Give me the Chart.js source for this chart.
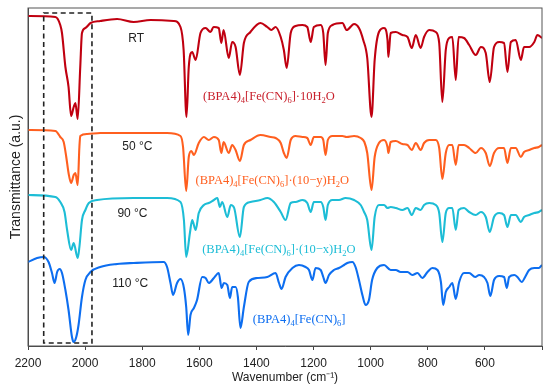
<!doctype html>
<html lang="en">
<head>
<meta charset="UTF-8">
<title>IR spectra</title>
<script src="https://cdn.jsdelivr.net/npm/chart.js@4.4.0/dist/chart.umd.min.js"></script>
<style>
	html, body { margin: 0; padding: 0; background: #fff; }
	canvas { display: block; }
</style>
</head>
<body>
<canvas id="chart" width="550" height="389"></canvas>
<script>
	// wavenumbers (cm-1) and transmittance (a.u., stacked offsets)
	const rtWn = [2200,2104,2087,2081,2069,2058,2049,2040,2034,2026,2017,2011,1999,1981,1947,1888,1830,1771,1690,1666,1655,1645,1637,1625,1613,1596,1578,1561,1550,1532,1523,1515,1497,1485,1473,1458,1444,1421,1386,1362,1348,1333,1315,1304,1294,1280,1263,1239,1222,1210,1199,1175,1166,1158,1150,1134,1099,1084,1058,1041,1026,1012,997,986,971,953,941,938,930,912,889,871,856,842,825,813,795,772,760,749,737,725,714,702,692,673,655,632,614,597,583,568,550,533,521,509,492,474,463,445,427,416,400];
	const rtT = [331,330,322,314,280,260,231,240,244,228,280,314,319,324,326,328,325,327,326,320,297,230,280,295,287,314,319,315,320,319,304,317,289,305,300,272,304,315,324,320,317,320,310,297,279,314,321,322,320,305,320,322,314,282,314,322,324,317,323,319,307,289,230,287,315,319,307,290,314,315,312,310,299,312,299,310,317,315,304,245,297,309,310,267,310,309,302,292,300,294,265,300,305,304,275,305,307,287,300,300,305,312,309];

	const t50Wn = [2200,2104,2087,2075,2066,2058,2049,2040,2034,2026,2020,2017,1993,1947,1830,1713,1666,1657,1646,1637,1628,1619,1602,1584,1567,1549,1532,1523,1515,1497,1485,1473,1458,1444,1421,1386,1350,1333,1315,1304,1294,1280,1263,1239,1222,1210,1199,1175,1166,1158,1150,1134,1099,1084,1058,1035,1022,1012,997,986,971,953,941,938,930,912,889,871,856,842,825,813,795,772,760,749,737,725,714,702,692,673,655,632,614,597,583,568,550,533,521,509,492,474,463,445,427,411,400];
	const t50T = [217,216,210,205,190,174,164,172,174,162,200,211,213,214,214,214,211,200,156,190,196,192,204,210,207,210,207,194,205,194,202,197,186,202,207,212,210,209,204,194,189,207,211,210,209,202,210,210,207,192,207,211,211,210,211,209,205,194,157,190,204,207,200,194,205,206,203,202,197,204,197,204,207,207,199,168,194,202,202,182,202,202,199,194,199,194,181,194,199,199,184,199,199,190,195,197,199,200,202];

	const t90Wn = [2200,2104,2087,2072,2063,2049,2040,2026,2020,2011,1999,1987,1958,1830,1713,1666,1654,1646,1633,1625,1613,1602,1584,1567,1549,1537,1528,1520,1502,1490,1478,1458,1444,1421,1386,1362,1339,1315,1298,1280,1263,1239,1222,1210,1199,1175,1166,1158,1150,1134,1111,1088,1058,1035,1023,1012,997,986,971,953,941,930,912,889,871,856,842,825,813,795,772,760,749,737,725,714,702,692,673,655,632,614,597,583,568,550,533,521,509,492,474,463,445,427,411,400];
	const t90T = [152,150,145,135,117,97,104,89,100,127,137,144,147,149,149,145,127,90,114,127,117,134,142,144,147,149,140,145,130,142,139,110,140,145,147,149,145,135,127,144,145,147,144,135,145,145,140,127,142,147,147,149,147,142,135,127,97,130,142,142,139,140,139,137,139,132,139,137,142,144,142,134,105,134,139,139,117,137,139,135,132,135,130,115,130,134,132,120,132,132,125,130,132,134,135,137];

	const t110Wn = [2200,2168,2145,2128,2116,2107,2098,2089,2081,2069,2058,2046,2040,2031,2023,2011,1999,1981,1947,1888,1830,1725,1713,1701,1692,1678,1666,1654,1646,1639,1631,1619,1608,1590,1578,1567,1549,1532,1522,1514,1502,1493,1485,1473,1465,1456,1444,1427,1397,1362,1333,1321,1312,1298,1274,1251,1228,1216,1204,1193,1175,1166,1158,1146,1129,1111,1093,1082,1064,1053,1041,1029,1018,1006,995,977,953,930,912,895,871,854,836,819,801,784,766,754,746,737,725,714,702,690,673,655,634,620,603,591,581,568,550,533,523,515,497,486,471,459,445,427,411,400];
	const t110T = [85,89,90,85,74,64,75,78,74,57,37,10,5,10,22,50,67,75,80,83,84,85,80,64,52,64,68,59,40,12,32,39,47,70,69,64,69,74,59,64,62,49,60,60,50,19,40,65,69,70,74,64,58,70,79,82,80,77,67,79,77,70,64,72,77,79,82,84,85,80,67,52,42,47,67,79,82,77,77,75,75,72,74,69,75,79,77,65,42,55,60,64,48,65,74,74,70,72,70,64,51,67,71,70,59,70,72,70,65,70,77,79,79,82];

	const xTicks = [2200, 2000, 1800, 1600, 1400, 1200, 1000, 800, 600];

	const colors = { rt: '#c00010', t50: '#ff5f1f', t90: '#1dbdd6', t110: '#0d6ef0' };

	const toPoints = (wn, t) => wn.map((x, i) => ({ x: x, y: t[i] }));

	// text labels: temperatures (sans) and formulas (serif, with subscripts)
	const tempLabels = [
		{ text: 'RT', x: 1849, y: 305 },
		{ text: '50 °C', x: 1870, y: 197 },
		{ text: '90 °C', x: 1887, y: 130 },
		{ text: '110 °C', x: 1905, y: 60 },
	];
	const formulaLabels = [
		{ color: '#c8202c', x: 1587, y: 247, parts: [['(BPA4)', 0], ['4', 1], ['[Fe(CN)', 0], ['6', 1], [']\u00b710H', 0], ['2', 1], ['O', 0]] },
		{ color: '#ff5f1f', x: 1613, y: 163, parts: [['(BPA4)', 0], ['4', 1], ['[Fe(CN)', 0], ['6', 1], [']\u00b7(10\u2212y)H', 0], ['2', 1], ['O', 0]] },
		{ color: '#1dbdd6', x: 1590, y: 94, parts: [['(BPA4)', 0], ['4', 1], ['[Fe(CN)', 0], ['6', 1], [']\u00b7(10\u2212x)H', 0], ['2', 1], ['O', 0]] },
		{ color: '#0d6ef0', x: 1413, y: 24, parts: [['(BPA4)', 0], ['4', 1], ['[Fe(CN)', 0], ['6', 1], [']', 0]] },
	];

	const extras = {
		id: 'extras',
		afterDatasetsDraw(chart) {
			const { ctx, chartArea: a, scales: { x, y } } = chart;
			ctx.save();
			// frame
			ctx.strokeStyle = '#555';
			ctx.lineWidth = 1;
			ctx.strokeRect(a.left, a.top, a.right - a.left, a.bottom - a.top);
			// dashed box around the CN band
			ctx.strokeStyle = '#222';
			ctx.lineWidth = 1.6;
			ctx.setLineDash([5, 3.5]);
			const x0 = x.getPixelForValue(2145), x1 = x.getPixelForValue(1976);
			const y0 = y.getPixelForValue(334), y1 = y.getPixelForValue(4);
			ctx.strokeRect(x0, y0, x1 - x0, y1 - y0);
			ctx.setLineDash([]);
			// temperatures
			ctx.fillStyle = '#222';
			ctx.font = '12px "Liberation Sans", Arial, sans-serif';
			ctx.textBaseline = 'alphabetic';
			tempLabels.forEach(l => ctx.fillText(l.text, x.getPixelForValue(l.x), y.getPixelForValue(l.y)));
			// formulas
			formulaLabels.forEach(l => {
				let px = x.getPixelForValue(l.x);
				const py = y.getPixelForValue(l.y);
				ctx.fillStyle = l.color;
				l.parts.forEach(([s, sub]) => {
					ctx.font = sub ? '8.5px "Liberation Serif", serif' : '12.5px "Liberation Serif", serif';
					ctx.fillText(s, px, py + (sub ? 3 : 0));
					px += ctx.measureText(s).width;
				});
			});
			ctx.restore();
		}
	};

	const line = (data, color) => ({
		data: data,
		borderColor: color,
		borderWidth: 2.1,
		pointRadius: 0,
		fill: false,
		cubicInterpolationMode: 'monotone',
	});

	new Chart(document.getElementById('chart'), {
		type: 'line',
		data: {
			datasets: [
				line(toPoints(rtWn, rtT), colors.rt),
				line(toPoints(t50Wn, t50T), colors.t50),
				line(toPoints(t90Wn, t90T), colors.t90),
				line(toPoints(t110Wn, t110T), colors.t110),
			],
		},
		options: {
			responsive: false,
			animation: false,
			layout: { padding: { top: 8, right: 8, left: 0, bottom: 0 } },
			plugins: { legend: { display: false }, tooltip: { enabled: false } },
			scales: {
				x: {
					type: 'linear',
					reverse: true,
					min: 400,
					max: 2200,
					afterFit: (s) => { s.height = 43; },
					afterBuildTicks: (s) => { s.ticks = xTicks.concat([400]).map(v => ({ value: v })); },
					ticks: {
						autoSkip: false,
						maxRotation: 0,
						padding: 6,
						color: '#222',
						font: { family: '"Liberation Sans", Arial, sans-serif', size: 12 },
						callback: (v) => xTicks.includes(v) ? String(v) : '',
					},
					grid: { drawOnChartArea: false, drawTicks: true, tickLength: 4, color: '#444' },
					border: { color: '#444' },
					title: {
						display: true,
						text: 'Wavenumber (cm\u207b\u00b9)',
						color: '#222',
						font: { family: '"Liberation Sans", Arial, sans-serif', size: 12 },
						padding: { top: 0, bottom: 4 },
					},
				},
				y: {
					min: 1,
					max: 339,
					afterFit: (s) => { s.width = 28; },
					ticks: { display: false },
					grid: { display: false },
					border: { color: '#444' },
					title: {
						display: true,
						text: 'Transmittance (a.u.)',
						color: '#222',
						font: { family: '"Liberation Sans", Arial, sans-serif', size: 14 },
						padding: { top: 8, bottom: 0 },
					},
				},
			},
		},
		plugins: [extras],
	});
</script>
</body>
</html>
